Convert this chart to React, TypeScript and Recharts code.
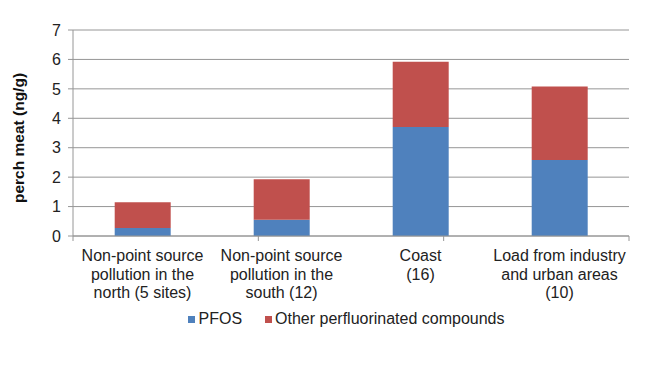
import React from 'react';
import { BarChart, Bar, XAxis, YAxis, CartesianGrid } from 'recharts';

const categories = [
  'Non-point source|pollution in the|north (5 sites)',
  'Non-point source|pollution in the|south (12)',
  'Coast|(16)',
  'Load from industry|and urban areas|(10)',
];
const pfos = [0.27, 0.55, 3.7, 2.58];
const otherPfc = [0.88, 1.38, 2.22, 2.5];
const yTicks = [0, 1, 2, 3, 4, 5, 6, 7];
const boundaryTicks = [0, 1, 2, 3, 4];
const seriesNames = ['PFOS', 'Other perfluorinated compounds'];

const data = categories.map((c, i) => ({ name: c, pfos: pfos[i], other: otherPfc[i] }));

const FONT = '"Liberation Sans", Arial, sans-serif';

const CatTick = (props: any) => {
  const { x, y, payload } = props;
  const lines = String(payload.value).split('|');
  return (
    <g transform={`translate(${x},${y})`}>
      {lines.map((l, i) => (
        <text key={i} x={0} y={0} dy={16 + i * 18.5} textAnchor="middle" fill="#222" fontSize={16} fontFamily={FONT}>
          {l}
        </text>
      ))}
    </g>
  );
};

const EmptyTick = () => <g />;

export default function App() {
  return (
    <div style={{ position: 'absolute', left: 0, top: 0, width: 661, height: 372, background: '#fff' }}>
      <BarChart width={661} height={372} data={data} margin={{ top: 30, right: 32, left: 28, bottom: 66 }} barCategoryGap="30%">
        <CartesianGrid vertical={false} stroke="#969696" strokeWidth={1} />
        <XAxis xAxisId={0} type="number" domain={[0, 4]} ticks={boundaryTicks} tick={EmptyTick} height={1} axisLine={{ stroke: '#969696' }} tickLine={{ stroke: '#969696' }} tickSize={5} allowDataOverflow />
        <XAxis xAxisId="cat" dataKey="name" interval={0} tick={<CatTick />} tickLine={false} axisLine={false} height={69} />
        <YAxis domain={[0, 7]} ticks={yTicks} width={45} tickSize={5} tickMargin={7} axisLine={{ stroke: '#969696' }} tickLine={{ stroke: '#969696' }} tick={{ fontSize: 16, fill: '#222', fontFamily: FONT }}
          label={{ value: 'perch meat (ng/g)', angle: -90, position: 'insideLeft', dx: -15, dy: 70, style: { fontSize: 15.5, fontWeight: 'bold', fill: '#111', fontFamily: FONT } }} />
        <Bar xAxisId="cat" dataKey="pfos" stackId="a" fill="#4F81BD" isAnimationActive={false} />
        <Bar xAxisId="cat" dataKey="other" stackId="a" fill="#C0504D" isAnimationActive={false} />
      </BarChart>
      <div style={{ position: 'absolute', top: 310, left: 0, width: 661, display: 'flex', justifyContent: 'center', alignItems: 'center', fontFamily: FONT, fontSize: 16, color: '#222' }}>
        <div style={{ display: 'flex', alignItems: 'center', marginLeft: 32 }}>
          <span style={{ display: 'inline-block', width: 7, height: 7, background: '#4F81BD', marginRight: 3 }} />
          <span style={{ marginRight: 23 }}>{seriesNames[0]}</span>
          <span style={{ display: 'inline-block', width: 7, height: 7, background: '#C0504D', marginRight: 3 }} />
          <span>{seriesNames[1]}</span>
        </div>
      </div>
    </div>
  );
}
